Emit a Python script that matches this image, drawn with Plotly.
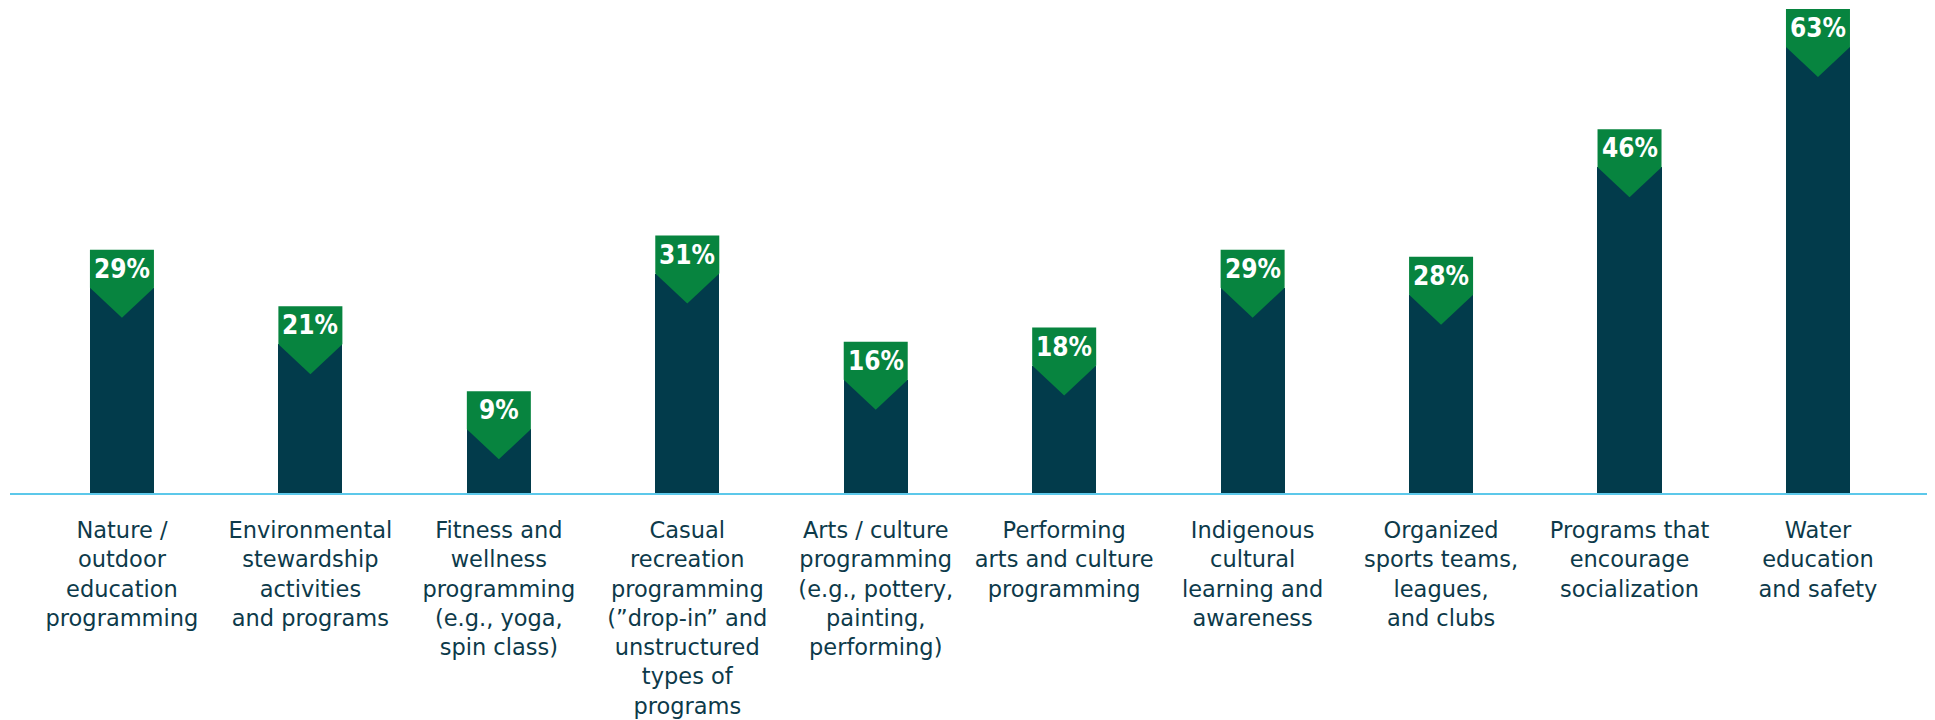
import plotly.graph_objects as go

# survey results: share of respondents per programme type
categories = [
    'Nature / outdoor education programming',
    'Environmental stewardship activities and programs',
    'Fitness and wellness programming (e.g., yoga, spin class)',
    'Casual recreation programming ("drop-in" and unstructured types of programs',
    'Arts / culture programming (e.g., pottery, painting, performing)',
    'Performing arts and culture programming',
    'Indigenous cultural learning and awareness',
    'Organized sports teams, leagues, and clubs',
    'Programs that encourage socialization',
    'Water education and safety',
]
values = [29, 21, 9, 31, 16, 18, 29, 28, 46, 63]
tick_labels = [
    'Nature /<br>outdoor<br>education<br>programming',
    'Environmental<br>stewardship<br>activities<br>and programs',
    'Fitness and<br>wellness<br>programming<br>(e.g., yoga,<br>spin class)',
    'Casual<br>recreation<br>programming<br>(\u201ddrop-in\u201d and<br>unstructured<br>types of<br>programs',
    'Arts / culture<br>programming<br>(e.g., pottery,<br>painting,<br>performing)',
    'Performing<br>arts and culture<br>programming',
    'Indigenous<br>cultural<br>learning and<br>awareness',
    'Organized<br>sports teams,<br>leagues,<br>and clubs',
    'Programs that<br>encourage<br>socialization',
    'Water<br>education<br>and safety',
]

BAR = '#023b4b'
GREEN = '#07843f'
TEXT = '#0d3a4a'
LINE = '#5cc8ea'

xs = list(range(len(values)))

fig = go.Figure()
fig.add_trace(go.Bar(
    x=xs,
    y=values,
    width=0.34,
    marker=dict(color=BAR, line=dict(width=0)),
    hovertext=categories,
    showlegend=False,
))

# green badge: box above the bar top with a point dropping into the bar
for x, v in zip(xs, values):
    fig.add_shape(
        type='path',
        xref='x', yref='y',
        xsizemode='pixel', ysizemode='pixel',
        xanchor=x, yanchor=v,
        path='M-32,38 L32,38 L32,0 L0,-30 L-32,0 Z',
        fillcolor=GREEN,
        line=dict(width=0),
        layer='above',
    )
    fig.add_annotation(
        x=x, y=v,
        text=f'{v}%',
        showarrow=False,
        yanchor='middle',
        yshift=19,
        font=dict(family='DejaVu Sans Condensed, DejaVu Sans, sans-serif',
                  size=26, color='white', weight='bold'),
    )

# page body has an 8px margin, so the figure is a bit smaller than the window
fig.update_layout(
    width=1927,
    height=712,
    margin=dict(l=2, r=0, t=0, b=227),
    plot_bgcolor='white',
    paper_bgcolor='white',
    bargap=0,
    xaxis=dict(
        range=[-0.594, 9.621],
        tickmode='array',
        tickvals=xs,
        ticktext=tick_labels,
        showgrid=False,
        zeroline=False,
        showline=True,
        linecolor=LINE,
        linewidth=2,
        ticks='',
        ticklabelstandoff=16,
        tickfont=dict(family='DejaVu Sans', size=22.5, color=TEXT),
    ),
    yaxis=dict(
        range=[0, 68.5],
        visible=False,
        showgrid=False,
        zeroline=False,
    ),
)

fig.write_html('out.html')
